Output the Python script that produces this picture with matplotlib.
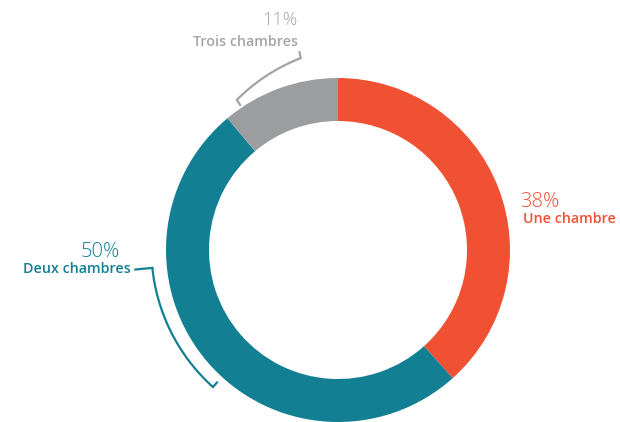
import numpy as np
import matplotlib.pyplot as plt

# Data
labels = ['Une chambre', 'Deux chambres', 'Trois chambres']
values = [38, 50, 11]
pct_text = ['38%', '50%', '11%']

# Colours
slice_colors = ['#F05133', '#137F92', '#9C9D9F']
text_colors = ['#F05133', '#137F92', '#A3A4A6']

W, H = 620, 422
cx, cy = 338, 172          # pie centre (pixel coords, y up)
R, ring = 172, 43

plt.rcParams['font.family'] = ['Open Sans', 'DejaVu Sans']

fig = plt.figure(figsize=(W / 100, H / 100), dpi=100)
ax = fig.add_axes([0, 0, 1, 1])
ax.set_xlim(0, W)
ax.set_ylim(0, H)
ax.set_aspect('equal')
ax.axis('off')

ax.pie(values, colors=slice_colors, startangle=90, counterclock=False,
       center=(cx, cy), radius=R, wedgeprops=dict(width=ring, linewidth=0))
ax.set_xlim(0, W)
ax.set_ylim(0, H)


def bracket(a0, a1, r0, r1, out_len, in_len, color):
    # arc (radius can drift a little) + outward connector at a0 + inward tick at a1
    a = np.radians(np.linspace(a0, a1, 60))
    r = np.linspace(r0, r1, 60)
    xs = cx + r * np.cos(a)
    ys = cy + r * np.sin(a)
    ax.plot(xs, ys, color=color, lw=1.6, solid_capstyle='butt')
    u0 = np.array([np.cos(a[0]), np.sin(a[0])])
    ax.plot([xs[0], xs[0] + out_len * u0[0]], [ys[0], ys[0] + out_len * u0[1]],
            color=color, lw=1.6)
    u1 = np.array([np.cos(a[-1]), np.sin(a[-1])])
    ax.plot([xs[-1], xs[-1] - in_len * u1[0]], [ys[-1], ys[-1] - in_len * u1[1]],
            color=color, lw=1.6)


bracket(185.5, 227.6, 186.5, 185.5, 17, 6, slice_colors[1])
bracket(101, 124, 195.5, 181, 6, 6, text_colors[2])

# Labels
ax.text(520, 215, pct_text[0], color=text_colors[0], fontsize=14.5,
        fontweight='light', ha='left', va='baseline')
ax.text(523, 199, labels[0], color=text_colors[0], fontsize=10.3,
        fontweight='semibold', ha='left', va='baseline')

ax.text(120, 165, pct_text[1], color=text_colors[1], fontsize=14.5,
        fontweight='light', ha='right', va='baseline')
ax.text(131, 149, labels[1], color=text_colors[1], fontsize=10.3,
        fontweight='semibold', ha='right', va='baseline')

ax.text(298, 397, pct_text[2], color=text_colors[2], fontsize=13,
        fontweight='light', ha='right', va='baseline')
ax.text(298, 376, labels[2], color=text_colors[2], fontsize=10.3,
        fontweight='semibold', ha='right', va='baseline')

fig.savefig('out.png', dpi=100)
